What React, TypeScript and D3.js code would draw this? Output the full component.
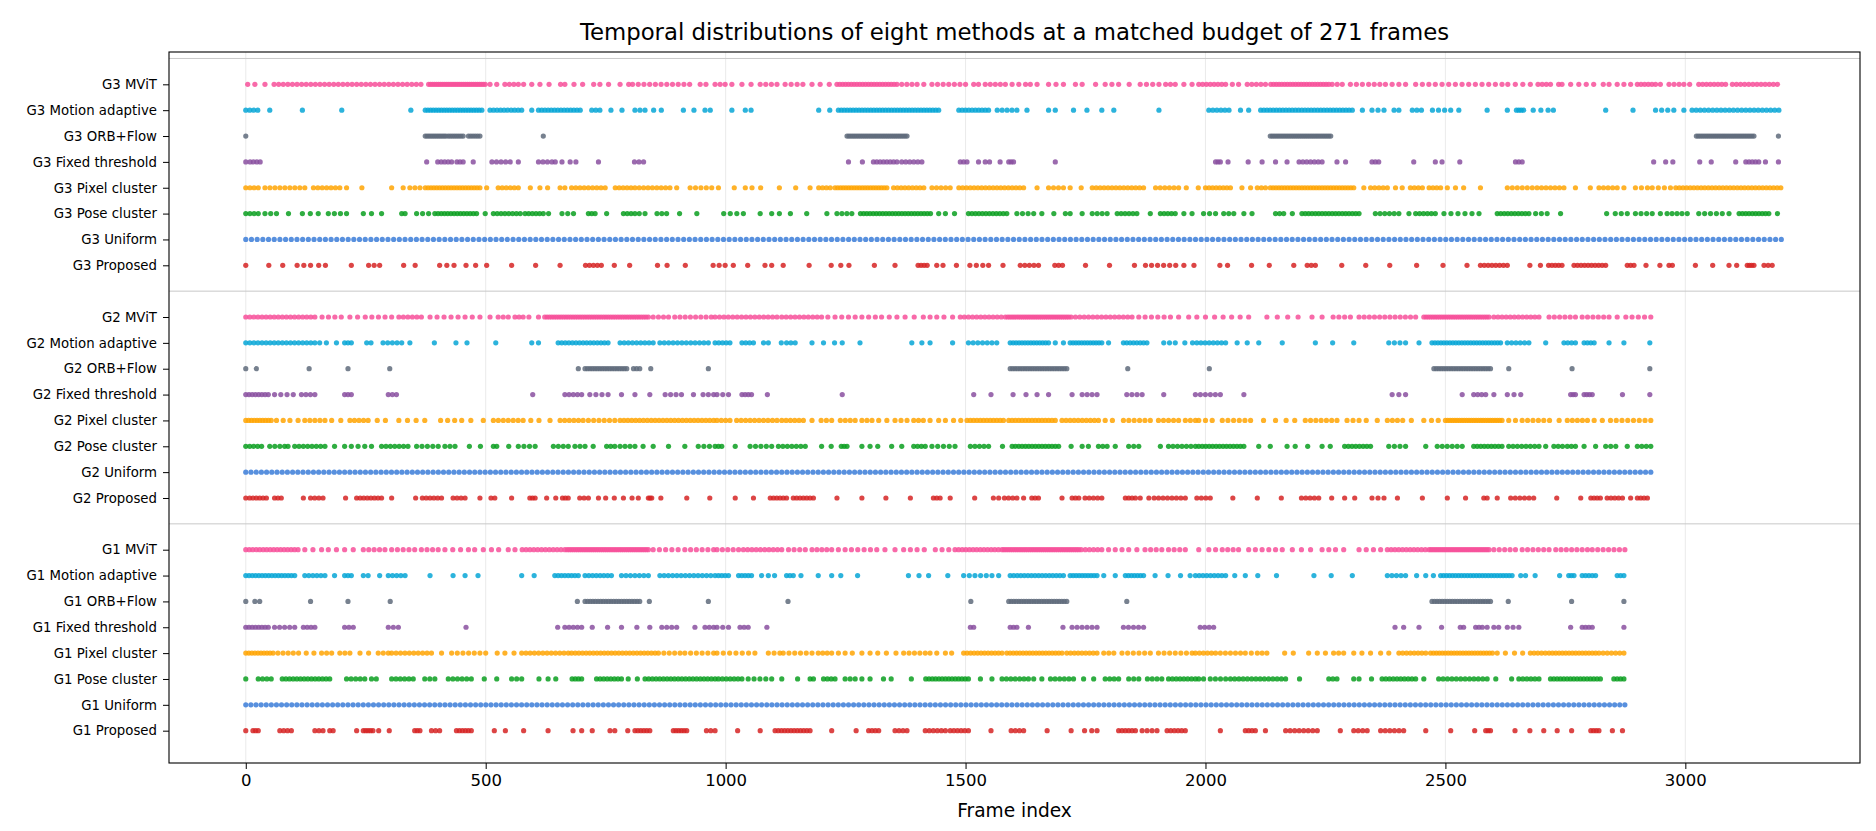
import * as d3 from 'd3';
import { useEffect, useRef } from 'react';

// each run is [firstFrame, lastFrame, dotCount]
type Run = [number, number, number];

const title = 'Temporal distributions of eight methods at a matched budget of 271 frames';
const xTicks = [0, 500, 1000, 1500, 2000, 2500, 3000];
const groups = ['G1', 'G2', 'G3'];
const methods = ['Proposed', 'Uniform', 'Pose cluster', 'Pixel cluster', 'Fixed threshold', 'ORB+Flow', 'Motion adaptive', 'MViT'];
const colors = ['#d62424', '#3b7dd8', '#0a9f20', '#ffa404', '#8a50a0', '#5f6b7b', '#07a6d6', '#f7509a'];

// ---- G3 ----
const g3Mvit: Run[] = [
  [4, 19, 2], [40, 40, 1], [59, 365, 33], [381, 499, 30], [509, 523, 2], [540, 568, 4], [579, 579, 1], [596, 613, 2],
  [632, 632, 1], [656, 665, 2], [684, 702, 2], [725, 738, 2], [756, 756, 1], [780, 798, 2], [806, 925, 11], [947, 959, 2],
  [978, 999, 3], [1013, 1013, 1], [1034, 1034, 1], [1053, 1053, 1], [1072, 1107, 4], [1124, 1149, 3], [1161, 1161, 1],
  [1180, 1197, 2], [1216, 1216, 1], [1232, 1357, 22], [1367, 1399, 4], [1413, 1413, 1], [1430, 1500, 7], [1517, 1527, 2],
  [1541, 1583, 5], [1597, 1625, 3], [1635, 1649, 2], [1673, 1704, 3], [1729, 1743, 2], [1771, 1771, 1], [1791, 1819, 3],
  [1841, 1841, 1], [1864, 1903, 4], [1917, 1937, 3], [1955, 1972, 2], [1986, 2042, 8], [2056, 2069, 2], [2087, 2125, 5],
  [2136, 2257, 22], [2264, 2285, 3], [2302, 2327, 3], [2340, 2375, 4], [2389, 2417, 3], [2438, 2438, 1], [2452, 2479, 3],
  [2493, 2618, 10], [2630, 2677, 4], [2693, 2719, 4], [2736, 2743, 2], [2761, 2761, 1], [2778, 2809, 3], [2829, 2841, 2],
  [2858, 2886, 3], [2900, 2938, 6], [2948, 2948, 1], [2966, 2987, 3], [2997, 3009, 2], [3028, 3084, 8], [3098, 3192, 12],
];
const g3Motion: Run[] = [
  [0, 25, 4], [50, 50, 1], [118, 118, 1], [200, 200, 1], [344, 344, 1], [374, 492, 22], [509, 575, 10], [596, 596, 1],
  [610, 697, 14], [721, 738, 3], [761, 761, 1], [784, 784, 1], [811, 832, 3], [850, 866, 2], [912, 934, 2], [957, 968, 2],
  [1013, 1013, 1], [1041, 1053, 2], [1194, 1194, 1], [1217, 1217, 1], [1235, 1444, 35], [1486, 1548, 10], [1566, 1607, 5],
  [1628, 1628, 1], [1673, 1687, 2], [1725, 1725, 1], [1753, 1753, 1], [1784, 1784, 1], [1809, 1809, 1], [1903, 1903, 1],
  [2007, 2049, 6], [2073, 2073, 1], [2090, 2090, 1], [2115, 2306, 30], [2327, 2327, 1], [2347, 2372, 3], [2393, 2403, 2],
  [2431, 2450, 3], [2473, 2511, 4], [2528, 2528, 1], [2587, 2587, 1], [2629, 2629, 1], [2648, 2663, 4], [2683, 2683, 1],
  [2699, 2699, 1], [2714, 2725, 2], [2834, 2834, 1], [2891, 2891, 1], [2938, 2976, 4], [2997, 2997, 1], [3014, 3195, 22],
];
const g3Orb: Run[] = [
  [0, 0, 1], [374, 417, 12], [422, 453, 8], [464, 488, 6], [620, 620, 1], [1253, 1378, 32], [2135, 2261, 32],
  [3023, 3143, 30], [3194, 3194, 1],
];
const g3Fixed: Run[] = [
  [0, 0, 1], [9, 30, 4], [377, 377, 1], [400, 429, 5], [440, 453, 3], [474, 474, 1], [513, 551, 5], [568, 568, 1],
  [610, 638, 4], [645, 659, 2], [676, 688, 2], [735, 735, 1], [810, 829, 3], [1256, 1256, 1], [1285, 1285, 1],
  [1308, 1357, 8], [1367, 1409, 6], [1489, 1503, 3], [1527, 1527, 1], [1541, 1550, 2], [1572, 1572, 1], [1590, 1600, 3],
  [1687, 1687, 1], [2021, 2031, 3], [2047, 2047, 1], [2089, 2089, 1], [2118, 2118, 1], [2146, 2146, 1], [2170, 2170, 1],
  [2195, 2243, 7], [2274, 2292, 2], [2347, 2361, 3], [2434, 2434, 1], [2479, 2493, 2], [2530, 2530, 1], [2646, 2660, 3],
  [2934, 2934, 1], [2959, 2974, 2], [3030, 3030, 1], [3054, 3054, 1], [3105, 3105, 1], [3126, 3153, 5], [3167, 3167, 1],
  [3194, 3194, 1],
];
const g3Pixel: Run[] = [
  [0, 26, 4], [40, 123, 9], [141, 196, 7], [210, 210, 1], [242, 242, 1], [304, 304, 1], [328, 328, 1], [342, 363, 3],
  [374, 488, 20], [502, 502, 1], [526, 568, 6], [593, 593, 1], [613, 629, 2], [655, 665, 2], [679, 749, 9], [770, 811, 6],
  [820, 884, 8], [898, 898, 1], [926, 971, 5], [985, 985, 1], [1018, 1018, 1], [1041, 1055, 2], [1073, 1073, 1],
  [1112, 1112, 1], [1146, 1146, 1], [1176, 1176, 1], [1194, 1218, 4], [1228, 1336, 20], [1350, 1413, 9], [1430, 1468, 5],
  [1486, 1621, 18], [1649, 1649, 1], [1673, 1704, 4], [1718, 1718, 1], [1741, 1741, 1], [1764, 1871, 14], [1896, 1944, 6],
  [1960, 1960, 1], [1985, 1985, 1], [2000, 2052, 8], [2076, 2094, 2], [2108, 2125, 3], [2135, 2309, 30], [2330, 2330, 1],
  [2344, 2379, 5], [2396, 2410, 2], [2427, 2452, 4], [2466, 2490, 4], [2504, 2538, 3], [2573, 2573, 1], [2629, 2681, 6],
  [2691, 2747, 7], [2771, 2771, 1], [2802, 2802, 1], [2820, 2858, 5], [2872, 2872, 1], [2896, 2921, 3], [2931, 2969, 4],
  [2980, 3199, 30],
];
const g3Pose: Run[] = [
  [0, 26, 4], [40, 64, 3], [89, 89, 1], [118, 151, 3], [172, 210, 4], [245, 245, 1], [262, 262, 1], [283, 283, 1],
  [325, 332, 2], [356, 381, 3], [394, 481, 14], [499, 499, 1], [516, 572, 8], [582, 620, 6], [631, 631, 1], [659, 683, 3],
  [714, 728, 3], [752, 752, 1], [787, 811, 4], [820, 832, 2], [857, 877, 3], [904, 904, 1], [940, 940, 1], [996, 1037, 4],
  [1072, 1072, 1], [1096, 1096, 1], [1112, 1135, 2], [1169, 1169, 1], [1211, 1211, 1], [1232, 1263, 4], [1281, 1427, 23],
  [1444, 1458, 2], [1477, 1477, 1], [1506, 1586, 12], [1607, 1642, 4], [1659, 1659, 1], [1684, 1684, 1], [1708, 1718, 2],
  [1743, 1743, 1], [1764, 1795, 4], [1816, 1857, 6], [1885, 1885, 1], [1906, 1937, 5], [1955, 1972, 2], [1996, 2021, 3],
  [2038, 2059, 3], [2080, 2097, 2], [2146, 2163, 3], [2181, 2181, 1], [2201, 2320, 18], [2354, 2403, 6], [2424, 2424, 1],
  [2438, 2479, 6], [2497, 2570, 6], [2608, 2674, 10], [2688, 2712, 3], [2740, 2740, 1], [2836, 2836, 1], [2854, 2879, 3],
  [2896, 2931, 4], [2948, 2948, 1], [2962, 2993, 4], [3004, 3004, 1], [3028, 3077, 5], [3091, 3091, 1], [3112, 3174, 10],
  [3192, 3192, 1],
];
const g3Uniform: Run[] = [[0, 3200, 271]];
const g3Proposed: Run[] = [
  [0, 0, 1], [48, 48, 1], [77, 77, 1], [107, 135, 3], [152, 152, 1], [166, 166, 1], [220, 220, 1], [256, 279, 3],
  [329, 329, 1], [353, 353, 1], [404, 434, 3], [459, 459, 1], [479, 479, 1], [502, 502, 1], [554, 554, 1], [604, 604, 1],
  [655, 655, 1], [708, 741, 5], [768, 768, 1], [800, 800, 1], [858, 858, 1], [878, 878, 1], [916, 916, 1], [974, 999, 3],
  [1016, 1016, 1], [1046, 1046, 1], [1082, 1096, 2], [1120, 1120, 1], [1174, 1174, 1], [1220, 1220, 1], [1240, 1257, 2],
  [1310, 1310, 1], [1353, 1353, 1], [1401, 1420, 4], [1440, 1453, 2], [1481, 1481, 1], [1509, 1536, 3], [1548, 1548, 1],
  [1578, 1578, 1], [1614, 1652, 5], [1686, 1702, 3], [1750, 1750, 1], [1800, 1800, 1], [1852, 1852, 1], [1875, 1938, 6],
  [1955, 1955, 1], [1976, 1976, 1], [2030, 2030, 1], [2046, 2046, 1], [2096, 2096, 1], [2133, 2133, 1], [2184, 2184, 1],
  [2212, 2229, 3], [2284, 2284, 1], [2334, 2334, 1], [2384, 2384, 1], [2440, 2440, 1], [2495, 2495, 1], [2545, 2545, 1],
  [2573, 2629, 8], [2676, 2676, 1], [2698, 2698, 1], [2715, 2743, 5], [2768, 2834, 10], [2879, 2893, 3], [2918, 2918, 1],
  [2947, 2947, 1], [2966, 2973, 2], [3021, 3021, 1], [3057, 3057, 1], [3091, 3091, 1], [3107, 3107, 1], [3129, 3143, 4],
  [3164, 3181, 3],
];

// ---- G2 ----
const g2Mvit: Run[] = [
  [0, 144, 18], [159, 199, 4], [217, 233, 2], [249, 304, 5], [319, 366, 6], [384, 457, 6], [472, 472, 1], [488, 488, 1],
  [509, 509, 1], [526, 547, 3], [561, 578, 3], [590, 590, 1], [610, 610, 1], [623, 839, 45], [849, 849, 1], [860, 881, 3],
  [894, 970, 8], [978, 1107, 15], [1117, 1200, 10], [1213, 1228, 2], [1242, 1312, 6], [1325, 1357, 3], [1374, 1374, 1],
  [1393, 1393, 1], [1412, 1440, 3], [1455, 1455, 1], [1473, 1473, 1], [1489, 1583, 12], [1588, 1715, 30], [1720, 1847, 15],
  [1861, 1927, 6], [1944, 1944, 1], [1965, 1965, 1], [1982, 2000, 2], [2019, 2090, 5], [2128, 2193, 4], [2222, 2243, 2],
  [2266, 2302, 4], [2320, 2438, 12], [2455, 2591, 30], [2601, 2695, 12], [2716, 2771, 6], [2785, 2841, 6], [2858, 2858, 1],
  [2876, 2928, 5],
];
const g2Motion: Run[] = [
  [0, 144, 18], [154, 168, 2], [189, 189, 1], [206, 220, 3], [252, 261, 2], [286, 325, 5], [342, 342, 1], [393, 393, 1],
  [438, 438, 1], [461, 461, 1], [521, 521, 1], [596, 610, 2], [651, 755, 15], [780, 849, 9], [863, 964, 12],
  [978, 1009, 5], [1034, 1058, 4], [1079, 1089, 2], [1116, 1116, 1], [1127, 1145, 3], [1180, 1180, 1], [1204, 1204, 1],
  [1227, 1227, 1], [1243, 1243, 1], [1280, 1280, 1], [1388, 1388, 1], [1409, 1409, 1], [1426, 1426, 1], [1473, 1473, 1],
  [1506, 1555, 6], [1565, 1565, 1], [1593, 1673, 14], [1687, 1704, 2], [1718, 1784, 12], [1798, 1798, 1], [1829, 1878, 8],
  [1913, 1937, 3], [1957, 1957, 1], [1973, 1973, 1], [1982, 2042, 8], [2066, 2066, 1], [2087, 2087, 1], [2111, 2111, 1],
  [2160, 2160, 1], [2229, 2229, 1], [2265, 2265, 1], [2309, 2309, 1], [2382, 2417, 4], [2445, 2445, 1], [2472, 2615, 24],
  [2629, 2674, 6], [2709, 2709, 1], [2747, 2771, 4], [2789, 2810, 4], [2841, 2841, 1], [2872, 2872, 1], [2926, 2926, 1],
];
const g2Orb: Run[] = [
  [0, 0, 1], [22, 22, 1], [132, 132, 1], [213, 213, 1], [300, 300, 1], [693, 693, 1], [707, 794, 18], [808, 821, 3],
  [844, 844, 1], [964, 964, 1], [1593, 1711, 24], [1838, 1838, 1], [2008, 2008, 1], [2476, 2594, 24], [2632, 2632, 1],
  [2764, 2764, 1], [2926, 2926, 1],
];
const g2Fixed: Run[] = [
  [0, 47, 8], [60, 99, 4], [116, 144, 4], [206, 220, 3], [297, 314, 3], [598, 598, 1], [665, 700, 5], [717, 755, 4],
  [783, 783, 1], [811, 811, 1], [842, 842, 1], [874, 908, 4], [933, 933, 1], [953, 975, 3], [982, 1006, 3], [1034, 1054, 4],
  [1087, 1087, 1], [1243, 1243, 1], [1517, 1517, 1], [1553, 1553, 1], [1599, 1599, 1], [1626, 1626, 1], [1649, 1649, 1],
  [1673, 1673, 1], [1722, 1722, 1], [1743, 1774, 4], [1836, 1868, 4], [1913, 1913, 1], [1979, 2031, 6], [2080, 2080, 1],
  [2389, 2417, 3], [2535, 2535, 1], [2559, 2584, 4], [2601, 2601, 1], [2629, 2657, 3], [2761, 2771, 3], [2789, 2806, 4],
  [2869, 2869, 1], [2926, 2926, 1],
];
const g2Pixel: Run[] = [
  [0, 53, 10], [64, 92, 3], [109, 109, 1], [123, 165, 5], [179, 179, 1], [198, 198, 1], [217, 255, 5], [274, 291, 2],
  [319, 373, 4], [406, 450, 4], [469, 469, 1], [495, 495, 1], [516, 578, 7], [594, 594, 1], [611, 611, 1], [634, 634, 1],
  [655, 703, 6], [714, 769, 6], [780, 975, 25], [982, 1009, 4], [1023, 1107, 10], [1117, 1162, 6], [1180, 1180, 1],
  [1199, 1221, 3], [1239, 1270, 4], [1284, 1305, 3], [1319, 1319, 1], [1336, 1336, 1], [1353, 1378, 3], [1392, 1412, 3],
  [1426, 1426, 1], [1444, 1444, 1], [1458, 1475, 2], [1490, 1490, 1], [1503, 1579, 12], [1590, 1687, 15], [1701, 1777, 10],
  [1791, 1806, 2], [1829, 1885, 6], [1902, 1944, 5], [1958, 1979, 3], [1986, 2014, 3], [2035, 2094, 6], [2121, 2121, 1],
  [2146, 2146, 1], [2168, 2168, 1], [2186, 2186, 1], [2208, 2274, 7], [2295, 2320, 3], [2335, 2335, 1], [2358, 2358, 1],
  [2379, 2400, 3], [2411, 2411, 1], [2429, 2429, 1], [2455, 2455, 1], [2471, 2471, 1], [2485, 2485, 1], [2500, 2618, 25],
  [2632, 2646, 2], [2660, 2705, 5], [2717, 2717, 1], [2737, 2737, 1], [2754, 2796, 5], [2810, 2810, 1], [2827, 2827, 1],
  [2844, 2928, 8],
];
const g2Pose: Run[] = [
  [0, 33, 5], [50, 71, 3], [81, 88, 2], [102, 165, 8], [185, 185, 1], [206, 248, 4], [262, 262, 1], [283, 338, 7],
  [356, 401, 5], [415, 436, 3], [466, 466, 1], [489, 489, 1], [516, 523, 2], [548, 548, 1], [568, 603, 4], [641, 672, 4],
  [686, 707, 3], [724, 724, 1], [752, 769, 3], [780, 811, 4], [828, 828, 1], [849, 849, 1], [881, 881, 1], [915, 915, 1],
  [943, 978, 4], [985, 992, 2], [1020, 1020, 1], [1051, 1096, 5], [1110, 1166, 7], [1200, 1200, 1], [1220, 1220, 1],
  [1241, 1253, 3], [1284, 1284, 1], [1301, 1301, 1], [1317, 1317, 1], [1346, 1346, 1], [1367, 1367, 1], [1392, 1416, 4],
  [1430, 1478, 5], [1510, 1548, 5], [1577, 1577, 1], [1597, 1694, 15], [1720, 1720, 1], [1743, 1743, 1], [1756, 1756, 1],
  [1777, 1795, 3], [1812, 1812, 1], [1840, 1861, 3], [1906, 1906, 1], [1923, 1979, 7], [1986, 2080, 14], [2111, 2111, 1],
  [2135, 2135, 1], [2170, 2187, 2], [2213, 2213, 1], [2243, 2243, 1], [2260, 2260, 1], [2290, 2344, 8], [2382, 2417, 4],
  [2459, 2459, 1], [2483, 2535, 6], [2559, 2618, 9], [2632, 2695, 8], [2709, 2709, 1], [2726, 2744, 3], [2754, 2771, 3],
  [2789, 2789, 1], [2813, 2813, 1], [2834, 2855, 3], [2879, 2879, 1], [2900, 2928, 4],
];
const g2Uniform: Run[] = [[0, 2928, 271]];
const g2Proposed: Run[] = [
  [0, 0, 1], [8, 43, 6], [60, 74, 3], [120, 120, 1], [135, 161, 4], [208, 208, 1], [231, 283, 8], [304, 304, 1],
  [354, 354, 1], [368, 408, 6], [432, 457, 4], [488, 488, 1], [511, 519, 2], [554, 554, 1], [592, 603, 3], [627, 627, 1],
  [646, 646, 1], [660, 672, 3], [696, 714, 3], [735, 735, 1], [750, 750, 1], [768, 768, 1], [787, 787, 1], [805, 818, 2],
  [839, 846, 3], [865, 865, 1], [919, 919, 1], [967, 967, 1], [1020, 1020, 1], [1058, 1058, 1], [1093, 1127, 6],
  [1141, 1183, 7], [1232, 1232, 1], [1284, 1284, 1], [1334, 1334, 1], [1385, 1385, 1], [1433, 1447, 3], [1468, 1468, 1],
  [1519, 1519, 1], [1558, 1569, 2], [1581, 1607, 4], [1621, 1621, 1], [1638, 1652, 3], [1701, 1701, 1], [1722, 1736, 3],
  [1749, 1784, 5], [1833, 1854, 4], [1864, 1882, 2], [1893, 1958, 8], [1982, 2010, 4], [2057, 2057, 1], [2108, 2108, 1],
  [2158, 2158, 1], [2200, 2236, 5], [2263, 2263, 1], [2290, 2290, 1], [2311, 2311, 1], [2347, 2372, 3], [2400, 2400, 1],
  [2452, 2452, 1], [2504, 2504, 1], [2542, 2542, 1], [2580, 2587, 2], [2608, 2608, 1], [2636, 2684, 6], [2732, 2732, 1],
  [2782, 2782, 1], [2803, 2823, 4], [2837, 2869, 5], [2886, 2886, 1], [2900, 2921, 4],
];

// ---- G1 ----
const g1Mvit: Run[] = [
  [0, 109, 16], [123, 140, 2], [158, 172, 2], [189, 189, 1], [206, 206, 1], [224, 224, 1], [245, 290, 5], [304, 352, 5],
  [366, 401, 4], [415, 464, 4], [477, 477, 1], [495, 495, 1], [512, 512, 1], [527, 527, 1], [547, 561, 2], [576, 665, 12],
  [670, 839, 40], [849, 901, 5], [915, 975, 6], [982, 1027, 5], [1037, 1117, 10], [1131, 1166, 4], [1180, 1221, 5],
  [1235, 1235, 1], [1249, 1315, 6], [1332, 1332, 1], [1353, 1353, 1], [1371, 1371, 1], [1385, 1385, 1], [1399, 1399, 1],
  [1414, 1414, 1], [1437, 1465, 3], [1478, 1576, 14], [1580, 1736, 36], [1741, 1784, 6], [1798, 1840, 4], [1857, 1857, 1],
  [1874, 1909, 4], [1923, 1958, 4], [1986, 1986, 1], [2007, 2021, 2], [2035, 2069, 4], [2090, 2146, 5], [2160, 2160, 1],
  [2181, 2219, 3], [2243, 2271, 3], [2288, 2288, 1], [2320, 2365, 4], [2379, 2466, 12], [2470, 2591, 30], [2601, 2646, 5],
  [2660, 2716, 6], [2730, 2796, 7], [2806, 2874, 7],
];
const g1Motion: Run[] = [
  [0, 102, 16], [123, 165, 6], [185, 185, 1], [206, 220, 3], [245, 255, 2], [279, 279, 1], [297, 332, 5], [384, 384, 1],
  [432, 432, 1], [457, 457, 1], [484, 484, 1], [575, 575, 1], [601, 601, 1], [644, 693, 8], [707, 762, 8], [783, 839, 7],
  [863, 978, 14], [985, 1006, 4], [1027, 1054, 5], [1075, 1089, 2], [1102, 1102, 1], [1127, 1141, 3], [1157, 1157, 1],
  [1193, 1193, 1], [1221, 1221, 1], [1240, 1240, 1], [1275, 1275, 1], [1381, 1381, 1], [1403, 1403, 1], [1423, 1423, 1],
  [1463, 1463, 1], [1496, 1555, 6], [1569, 1569, 1], [1593, 1704, 16], [1718, 1774, 10], [1788, 1788, 1], [1812, 1812, 1],
  [1833, 1871, 7], [1895, 1895, 1], [1922, 1922, 1], [1948, 1948, 1], [1968, 1968, 1], [1979, 2042, 9], [2061, 2061, 1],
  [2083, 2083, 1], [2109, 2109, 1], [2148, 2148, 1], [2226, 2226, 1], [2262, 2262, 1], [2306, 2306, 1], [2379, 2417, 5],
  [2440, 2440, 1], [2459, 2459, 1], [2475, 2475, 1], [2490, 2639, 25], [2657, 2667, 2], [2687, 2687, 1], [2738, 2738, 1],
  [2757, 2768, 3], [2785, 2813, 5], [2858, 2872, 3],
];
const g1Orb: Run[] = [
  [0, 0, 1], [19, 29, 2], [135, 135, 1], [213, 213, 1], [301, 301, 1], [691, 691, 1], [707, 821, 22], [841, 841, 1],
  [964, 964, 1], [1130, 1130, 1], [1511, 1511, 1], [1590, 1711, 24], [1836, 1836, 1], [2472, 2594, 24], [2631, 2631, 1],
  [2763, 2763, 1], [2872, 2872, 1],
];
const g1Fixed: Run[] = [
  [0, 47, 8], [60, 102, 5], [120, 144, 4], [206, 224, 3], [297, 318, 3], [459, 459, 1], [650, 650, 1], [665, 700, 5],
  [722, 722, 1], [754, 754, 1], [783, 783, 1], [815, 815, 1], [842, 842, 1], [867, 898, 4], [936, 936, 1], [957, 975, 3],
  [982, 1006, 3], [1030, 1047, 3], [1086, 1086, 1], [1510, 1517, 2], [1593, 1607, 3], [1631, 1631, 1], [1703, 1703, 1],
  [1722, 1774, 6], [1829, 1871, 5], [1989, 2017, 4], [2395, 2395, 1], [2413, 2413, 1], [2445, 2445, 1], [2492, 2492, 1],
  [2531, 2538, 2], [2563, 2577, 3], [2587, 2587, 1], [2601, 2611, 2], [2629, 2653, 3], [2761, 2761, 1], [2785, 2806, 4],
  [2872, 2872, 1],
];
const g1Pixel: Run[] = [
  [0, 57, 10], [67, 99, 4], [110, 110, 1], [126, 126, 1], [142, 142, 1], [158, 179, 3], [196, 217, 3], [238, 238, 1],
  [256, 256, 1], [276, 297, 3], [304, 387, 10], [408, 408, 1], [429, 488, 6], [500, 500, 1], [524, 524, 1], [540, 540, 1],
  [559, 559, 1], [575, 672, 12], [679, 853, 24], [860, 905, 5], [915, 975, 6], [982, 1061, 7], [1089, 1113, 3],
  [1120, 1180, 6], [1193, 1221, 4], [1235, 1235, 1], [1249, 1249, 1], [1264, 1264, 1], [1284, 1284, 1], [1301, 1301, 1],
  [1317, 1317, 1], [1335, 1335, 1], [1355, 1355, 1], [1371, 1416, 5], [1426, 1426, 1], [1440, 1440, 1], [1458, 1471, 2],
  [1496, 1576, 12], [1586, 1701, 18], [1711, 1774, 9], [1788, 1809, 3], [1826, 1885, 6], [1902, 1972, 7], [1979, 2021, 6],
  [2031, 2073, 5], [2083, 2108, 3], [2118, 2128, 2], [2165, 2165, 1], [2183, 2183, 1], [2215, 2215, 1], [2233, 2233, 1],
  [2250, 2250, 1], [2267, 2288, 3], [2309, 2309, 1], [2326, 2326, 1], [2344, 2344, 1], [2365, 2365, 1], [2382, 2382, 1],
  [2403, 2459, 8], [2469, 2598, 22], [2608, 2608, 1], [2625, 2625, 1], [2644, 2644, 1], [2661, 2661, 1], [2677, 2716, 6],
  [2723, 2813, 14], [2820, 2872, 7],
];
const g1Pose: Run[] = [
  [0, 0, 1], [26, 53, 4], [76, 175, 14], [210, 248, 5], [262, 272, 2], [304, 349, 6], [373, 394, 3], [422, 470, 6],
  [497, 497, 1], [523, 523, 1], [554, 575, 3], [611, 611, 1], [630, 630, 1], [646, 646, 1], [680, 700, 4], [731, 783, 8],
  [797, 797, 1], [816, 816, 1], [832, 978, 20], [985, 1034, 7], [1047, 1096, 5], [1117, 1117, 1], [1150, 1150, 1],
  [1176, 1183, 2], [1204, 1228, 4], [1249, 1270, 3], [1284, 1301, 2], [1329, 1329, 1], [1345, 1345, 1], [1387, 1387, 1],
  [1417, 1506, 14], [1531, 1531, 1], [1555, 1555, 1], [1576, 1631, 7], [1642, 1642, 1], [1659, 1659, 1], [1677, 1725, 6],
  [1746, 1746, 1], [1767, 1767, 1], [1791, 1819, 4], [1840, 1861, 3], [1879, 1909, 4], [1923, 1979, 8], [1986, 1996, 2],
  [2010, 2042, 4], [2052, 2167, 14], [2196, 2196, 1], [2257, 2274, 3], [2309, 2320, 2], [2346, 2346, 1], [2368, 2438, 10],
  [2455, 2455, 1], [2486, 2587, 12], [2605, 2605, 1], [2638, 2638, 1], [2653, 2695, 6], [2719, 2823, 16], [2851, 2872, 4],
];
const g1Uniform: Run[] = [[0, 2874, 271]];
const g1Proposed: Run[] = [
  [0, 0, 1], [15, 26, 3], [71, 95, 4], [144, 161, 3], [175, 182, 2], [231, 231, 1], [245, 265, 5], [277, 277, 1],
  [299, 299, 1], [352, 363, 3], [387, 404, 3], [439, 470, 6], [518, 518, 1], [541, 541, 1], [579, 579, 1], [630, 630, 1],
  [682, 682, 1], [700, 700, 1], [722, 722, 1], [759, 769, 2], [796, 796, 1], [811, 842, 6], [891, 919, 6], [960, 978, 3],
  [1025, 1025, 1], [1072, 1072, 1], [1103, 1176, 12], [1221, 1221, 1], [1272, 1272, 1], [1298, 1319, 4], [1353, 1378, 4],
  [1416, 1458, 6], [1468, 1506, 6], [1553, 1553, 1], [1595, 1621, 4], [1670, 1670, 1], [1720, 1720, 1], [1748, 1748, 1],
  [1763, 1774, 2], [1819, 1854, 6], [1868, 1899, 4], [1920, 1958, 6], [2031, 2031, 1], [2083, 2104, 4], [2125, 2125, 1],
  [2167, 2233, 8], [2281, 2281, 1], [2309, 2337, 4], [2365, 2413, 6], [2459, 2459, 1], [2511, 2511, 1], [2561, 2561, 1],
  [2584, 2594, 3], [2645, 2645, 1], [2676, 2676, 1], [2705, 2705, 1], [2733, 2733, 1], [2763, 2763, 1], [2803, 2820, 4],
  [2848, 2848, 1], [2869, 2869, 1],
];

const groupRuns: Run[][][] = [
  [g1Proposed, g1Uniform, g1Pose, g1Pixel, g1Fixed, g1Orb, g1Motion, g1Mvit],
  [g2Proposed, g2Uniform, g2Pose, g2Pixel, g2Fixed, g2Orb, g2Motion, g2Mvit],
  [g3Proposed, g3Uniform, g3Pose, g3Pixel, g3Fixed, g3Orb, g3Motion, g3Mvit],
];

function expand(runs: Run[]): number[] {
  const out: number[] = [];
  runs.forEach(([a, b, n]) => {
    if (n <= 1) out.push(a);
    else for (let i = 0; i < n; i++) out.push(a + ((b - a) * i) / (n - 1));
  });
  return out;
}

export default function App() {
  const ref = useRef<SVGSVGElement | null>(null);

  useEffect(() => {
    const svg = d3.select(ref.current);
    svg.selectAll('*').remove();

    const width = 1876;
    const height = 831;
    const left = 169, right = 1860, top = 52, bottom = 763;
    const font = 'DejaVu Sans, sans-serif';

    const x = d3.scaleLinear().domain([-160, 3364]).range([left, right]);
    const y = d3.scaleLinear().domain([-1.25, 26.25]).range([bottom, top]);

    svg.append('rect').attr('width', width).attr('height', height).attr('fill', '#fff');

    // vertical grid
    svg.append('g')
      .selectAll('line')
      .data(xTicks)
      .enter()
      .append('line')
      .attr('x1', (d) => x(d))
      .attr('x2', (d) => x(d))
      .attr('y1', top)
      .attr('y2', bottom)
      .attr('stroke', '#b0b0b0')
      .attr('stroke-opacity', 0.25)
      .attr('stroke-width', 1);

    // group separators
    svg.append('g')
      .selectAll('line')
      .data([8, 17, 26])
      .enter()
      .append('line')
      .attr('x1', left)
      .attr('x2', right)
      .attr('y1', (d) => y(d))
      .attr('y2', (d) => y(d))
      .attr('stroke', '#c8c8c8')
      .attr('stroke-width', 1);

    const rows: { label: string; pos: number; color: string; frames: number[] }[] = [];
    groups.forEach((g, gi) => {
      methods.forEach((m, mi) => {
        rows.push({ label: `${g} ${m}`, pos: gi * 9 + mi, color: colors[mi], frames: expand(groupRuns[gi][mi]) });
      });
    });

    const dots = svg.append('g');
    rows.forEach((r) => {
      dots.append('g')
        .selectAll('circle')
        .data(r.frames)
        .enter()
        .append('circle')
        .attr('cx', (d) => x(d))
        .attr('cy', y(r.pos))
        .attr('r', 2.6)
        .attr('fill', r.color)
        .attr('fill-opacity', 0.85);
    });

    // axes
    const xAxis = svg.append('g')
      .attr('transform', `translate(0,${bottom})`)
      .call(d3.axisBottom(x).tickValues(xTicks).tickSize(6).tickPadding(5).tickFormat(d3.format('d')));
    xAxis.select('.domain').remove();
    xAxis.selectAll('text').attr('font-size', 16.5).attr('font-family', font).attr('fill', '#000');
    xAxis.selectAll('line').attr('stroke', '#000');

    const yAxis = svg.append('g')
      .attr('transform', `translate(${left},0)`)
      .call(
        d3.axisLeft(y)
          .tickValues(rows.map((r) => r.pos))
          .tickSize(6)
          .tickPadding(6)
          .tickFormat((d) => rows.find((r) => r.pos === d)?.label ?? ''),
      );
    yAxis.select('.domain').remove();
    yAxis.selectAll('text').attr('font-size', 13.3).attr('font-family', font).attr('fill', '#000');
    yAxis.selectAll('line').attr('stroke', '#000');

    svg.append('rect')
      .attr('x', left)
      .attr('y', top)
      .attr('width', right - left)
      .attr('height', bottom - top)
      .attr('fill', 'none')
      .attr('stroke', '#000')
      .attr('stroke-width', 1.1);

    svg.append('text')
      .attr('x', (left + right) / 2)
      .attr('y', 40)
      .attr('text-anchor', 'middle')
      .attr('font-size', 22.8)
      .attr('font-family', font)
      .attr('fill', '#000')
      .text(title);

    svg.append('text')
      .attr('x', (left + right) / 2)
      .attr('y', 817)
      .attr('text-anchor', 'middle')
      .attr('font-size', 18.6)
      .attr('font-family', font)
      .attr('fill', '#000')
      .text('Frame index');
  }, []);

  return (
    <>
      <style>{'body{margin:0}'}</style>
      <svg ref={ref} width={1876} height={831} role="img" aria-label={title} />
    </>
  );
}
